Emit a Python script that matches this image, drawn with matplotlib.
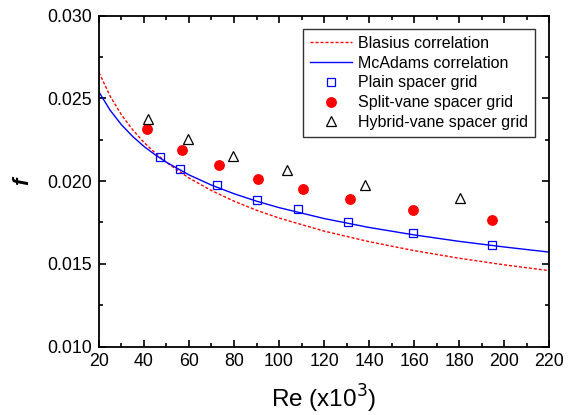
import numpy as np
import matplotlib
matplotlib.use('Agg')
import matplotlib.pyplot as plt
from matplotlib.ticker import MultipleLocator

plt.rcParams['font.family'] = ['Liberation Sans', 'DejaVu Sans']

# correlation curves (Re in thousands)
re_curve = [20, 25, 30, 35, 40, 45, 50, 60, 70, 80, 90, 100, 120, 140, 160, 180, 200, 220]
f_blasius = [0.02657, 0.02513, 0.02401, 0.02310, 0.02234, 0.02170, 0.02113, 0.02019, 0.01943,
             0.01879, 0.01824, 0.01777, 0.01698, 0.01634, 0.01580, 0.01534, 0.01494, 0.01459]
f_mcadams = [0.02539, 0.02428, 0.02341, 0.02270, 0.02210, 0.02159, 0.02114, 0.02038, 0.01976,
             0.01924, 0.01879, 0.01840, 0.01774, 0.01720, 0.01675, 0.01636, 0.01602, 0.01571]

# measured data
re_plain = [47.2, 56.1, 72.4, 90.1, 108.3, 130.8, 159.6, 194.7]
f_plain = [0.02147, 0.02073, 0.01974, 0.01889, 0.01829, 0.01754, 0.01686, 0.01615]
re_split = [41.5, 57.1, 73.4, 90.8, 110.5, 131.7, 159.6, 194.7]
f_split = [0.02314, 0.02189, 0.02099, 0.02016, 0.01952, 0.01891, 0.01827, 0.01764]
re_hybrid = [41.6, 59.5, 79.5, 103.4, 138.1, 180.2]
f_hybrid = [0.02375, 0.02252, 0.02153, 0.02067, 0.01976, 0.01899]

fig = plt.figure(figsize=(5.72, 4.15), dpi=100)
ax = fig.add_axes([0.173, 0.165, 0.787, 0.797])

ax.plot(re_curve, f_blasius, color='red', lw=1.0, ls=(0, (2.2, 1.4)), label='Blasius correlation')
ax.plot(re_curve, f_mcadams, color='blue', lw=1.0, label='McAdams correlation')
ax.plot(re_plain, f_plain, ls='none', marker='s', ms=5.5, mfc='none', mec='blue', mew=0.9,
        label='Plain spacer grid')
ax.plot(re_split, f_split, ls='none', marker='o', ms=6.8, color='red', label='Split-vane spacer grid')
ax.plot(re_hybrid, f_hybrid, ls='none', marker='^', ms=7.5, mfc='none', mec='black', mew=0.9,
        label='Hybrid-vane spacer grid')

ax.set_xlim(20, 220)
ax.set_ylim(0.010, 0.030)
ax.xaxis.set_major_locator(MultipleLocator(20))
ax.xaxis.set_minor_locator(MultipleLocator(10))
ax.yaxis.set_major_locator(MultipleLocator(0.005))
ax.yaxis.set_minor_locator(MultipleLocator(0.0025))
ax.yaxis.set_major_formatter(matplotlib.ticker.FormatStrFormatter('%.3f'))
ax.tick_params(which='both', direction='in', top=True, right=True, width=1.2, labelsize=12.8)
ax.tick_params(which='major', length=5, pad=5)
ax.tick_params(which='minor', length=3)
for s in ax.spines.values():
    s.set_linewidth(1.3)

ax.set_xlabel('Re (x10$^3$)', fontsize=17.5, labelpad=9)
ax.set_ylabel('f', fontsize=16, fontstyle='italic', fontweight='bold', labelpad=10)

leg = ax.legend(loc='upper right', bbox_to_anchor=(0.969, 0.961), fontsize=11.5, frameon=True,
                fancybox=False, edgecolor='black', handlelength=2.6, handletextpad=0.4,
                borderpad=0.45, labelspacing=0.3, borderaxespad=0.0)
leg.get_frame().set_linewidth(1.0)

fig.savefig('out.png', dpi=100)
